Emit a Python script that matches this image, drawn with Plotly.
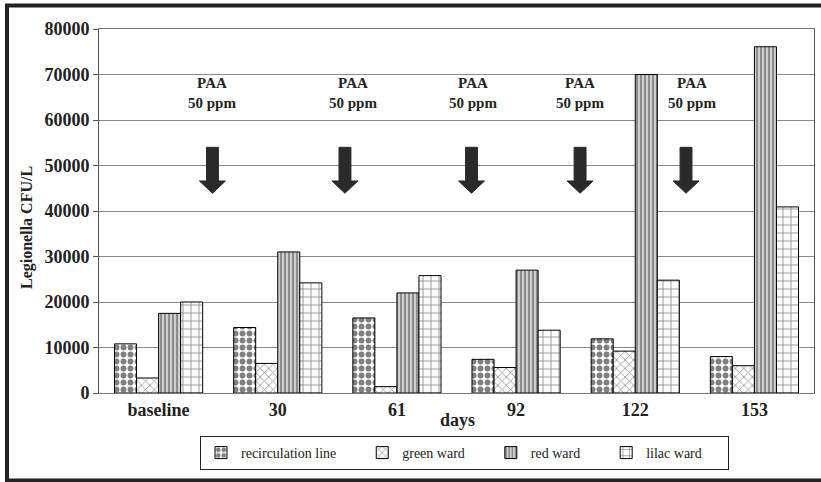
import plotly.graph_objects as go

categories = ["baseline", "30", "61", "92", "122", "153"]
recirculation_line = [10800, 14400, 16500, 7400, 11900, 8000]
green_ward = [3300, 6500, 1400, 5600, 9200, 6000]
red_ward = [17500, 31000, 22000, 27000, 70000, 76100]
lilac_ward = [20000, 24200, 25800, 13800, 24800, 40900]

y_ticks = [0, 10000, 20000, 30000, 40000, 50000, 60000, 70000, 80000]

# PAA treatment markers (positions between sampling days, axis units)
paa_text_x = [0.446, 1.631, 2.638, 3.537, 4.473]
paa_arrow_x = [0.452, 1.564, 2.626, 3.537, 4.426]
paa_text = "PAA<br>50 ppm"

FONT = "Liberation Serif"
L, R, T, B = 99, 7, 29, 89
W, H = 821, 482
pw, ph = W - L - R, H - T - B
PAD = "\u00a0" * 6

xs = list(range(len(categories)))

fig = go.Figure()

fig.add_trace(go.Bar(
    x=xs, y=recirculation_line, name="recirculation line" + PAD,
    marker=dict(color="white", line=dict(color="black", width=1),
                pattern=dict(shape=".", fgcolor="black", bgcolor="white", size=7, solidity=0.55)),
))
fig.add_trace(go.Bar(
    x=xs, y=green_ward, name="green ward" + PAD,
    marker=dict(color="white", line=dict(color="black", width=1),
                pattern=dict(shape="x", fgcolor="#222", bgcolor="white", size=6, solidity=0.25)),
))
fig.add_trace(go.Bar(
    x=xs, y=red_ward, name="red ward" + PAD,
    marker=dict(color="#c8c8c8", line=dict(color="black", width=1),
                pattern=dict(shape="|", fgcolor="#3a3a3a", bgcolor="#cfcfcf", size=4, solidity=0.45)),
))
fig.add_trace(go.Bar(
    x=xs, y=lilac_ward, name="lilac ward" + PAD,
    marker=dict(color="white", line=dict(color="black", width=1),
                pattern=dict(shape="+", fgcolor="#111", bgcolor="white", size=8, solidity=0.2)),
))

annotations = []
for tx in paa_text_x:
    annotations.append(dict(x=tx, y=66000, xref="x", yref="y", text="<b>" + paa_text + "</b>",
                            showarrow=False, font=dict(family=FONT, size=15, color="#222"),
                            align="center"))
annotations.append(dict(x=(457 - L) / pw, y=(393 - 420) / ph, xref="paper", yref="paper",
                        text="<b>days</b>", showarrow=False, xanchor="center", yanchor="middle",
                        font=dict(family=FONT, size=18, color="#222")))
annotations.append(dict(x=(27 - L) / pw, y=(393 - 228) / ph, xref="paper", yref="paper",
                        text="<b>Legionella CFU/L</b>", showarrow=False, textangle=-90,
                        xanchor="center", yanchor="middle",
                        font=dict(family=FONT, size=16, color="#222")))

shapes = []
y_top, y_neck, y_tip = 54000, 46600, 43900
hs, hh = 0.05, 0.109
for ax in paa_arrow_x:
    path = (f"M {ax-hs},{y_top} L {ax+hs},{y_top} L {ax+hs},{y_neck} L {ax+hh},{y_neck} "
            f"L {ax},{y_tip} L {ax-hh},{y_neck} L {ax-hs},{y_neck} Z")
    shapes.append(dict(type="path", path=path, xref="x", yref="y",
                       fillcolor="#2a2a2a", line=dict(color="#2a2a2a", width=1)))

# outer frame
shapes.append(dict(type="rect", xref="paper", yref="paper",
                   x0=(7 - L) / pw, x1=(830 - L) / pw,
                   y0=(H - B - 480.5) / ph, y1=(H - B - 5.5) / ph,
                   line=dict(color="#222", width=4), fillcolor="rgba(0,0,0,0)", layer="above"))

fig.update_layout(
    width=W, height=H,
    margin=dict(l=L, r=R, t=T, b=B, autoexpand=False),
    paper_bgcolor="white", plot_bgcolor="white",
    barmode="group", bargap=0.26, bargroupgap=0,
    font=dict(family=FONT, color="#222"),
    showlegend=True,
    legend=dict(orientation="h", x=(464.5 - L) / pw, xanchor="center", y=(393 - 436) / ph, yanchor="top",
                bordercolor="#222", borderwidth=1, font=dict(family=FONT, size=14, color="#222"),
                traceorder="normal", itemwidth=30, tracegroupgap=0,
                bgcolor="white"),
    annotations=annotations,
    shapes=shapes,
    xaxis=dict(tickmode="array", tickvals=xs, ticktext=["<b>" + c + "</b>" for c in categories],
               range=[-0.5, len(categories) - 0.5],
               tickfont=dict(family=FONT, size=18, color="#222"),
               showline=True, linecolor="#777", linewidth=1, mirror=True,
               ticks="", showgrid=False, zeroline=False, fixedrange=True, automargin=False),
    yaxis=dict(range=[0, 80000], tickmode="array", tickvals=y_ticks,
               ticktext=["<b>%d</b>" % v for v in y_ticks],
               tickfont=dict(family=FONT, size=18, color="#222"),
               showline=True, linecolor="#555", linewidth=1, mirror=True,
               ticks="outside", ticklen=5, tickcolor="#555",
               gridcolor="#8a8a8a", gridwidth=1, zeroline=False, automargin=False),
)

fig.write_html("out.html", config={"displayModeBar": False},
               post_script="document.body.style.margin='0';document.body.style.padding='0';")
